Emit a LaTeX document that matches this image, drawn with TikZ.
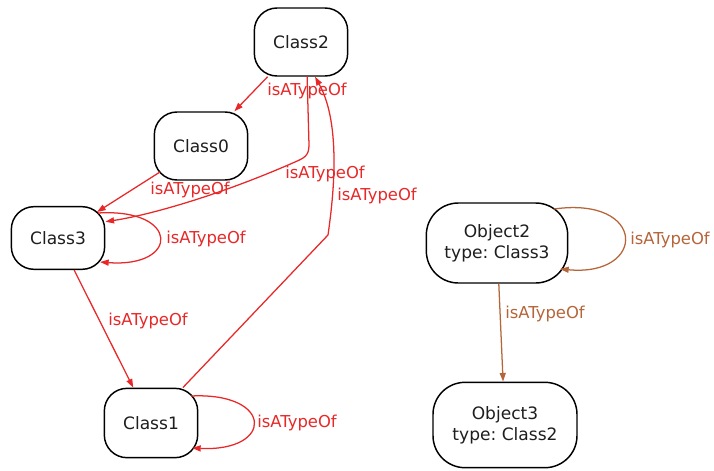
\documentclass[tikz,border=0pt]{standalone}
\usepackage{fontspec}
\setmainfont{DejaVu Sans}
\usetikzlibrary{arrows.meta,calc}
\definecolor{isared}{RGB}{232,40,40}
\definecolor{isabrown}{RGB}{181,101,57}
\definecolor{ink}{RGB}{30,30,30}
\frenchspacing

\begin{document}
\begin{tikzpicture}[
    x=0.75pt, y=-0.75pt,
    cls/.style={rectangle, rounded corners=17pt, draw=black, line width=1.1pt, fill=white,
        minimum width=70pt, minimum height=51pt, inner sep=2pt, text=ink,
        font=\fontsize{12.8}{15.75}\selectfont},
    obj/.style={cls, rounded corners=24pt, align=center,
        minimum width=106pt, minimum height=60pt},
    edge/.style={line width=0.95pt, color=isared, -{Triangle[length=6.5pt,width=4.5pt]}},
    objedge/.style={edge, color=isabrown},
    lbl/.style={text=isared, inner sep=0pt, font=\fontsize{12.3}{14}\selectfont},
    objlbl/.style={lbl, text=isabrown}
]
    \useasboundingbox (0,0) rectangle (714,471);

    \node[cls] (c2) at (301,42) {Class2};
    \node[cls] (c0) at (201,146) {Class0};
    \node[cls, minimum height=47pt] (c3) at (58,238) {Class3};
    \node[cls, minimum height=52pt] (c1) at (151,423) {Class1};
    \node[obj] (o2) at (497,243) {Object2\\type: Class3};
    \node[obj, minimum width=108pt, minimum height=64pt] (o3) at (505,425) {Object3\\type: Class2};

    \draw[edge] (c2) -- (c0);
    \draw[edge] ($(c0)+(-41,26)$) -- ($(c3)+(39,-26)$);
    \draw[edge] (c2.-80) -- (309,145) .. controls (309,156) and (304,158) .. (295,162)
        .. controls (220,195) and (150,215) .. (c3.19);
    \draw[edge] (c3) -- (c1);
    \draw[edge] (c1.48) -- (328,235) .. controls (333,200) and (342,125) .. (c2.-68);
    \draw[edge] ($(c3)+(40,-25)$) .. controls (180,208) and (180,268) .. ($(c3)+(42,24)$);
    \draw[edge] ($(c1)+(40,-27)$) .. controls (274,392) and (274,452) .. ($(c1)+(41,25)$);
    \draw[objedge] ($(o2)+(57,-34)$) .. controls (647,196) and (647,277) .. ($(o2)+(63,26)$);
    \draw[objedge] (o2) -- (o3);

    \node[lbl] (l0) at (307,91) {isATypeOf};
    \node[lbl] (l1) at (190,190) {isATypeOf};
    \node[lbl] (l2) at (325,174) {isATypeOf};
    \node[lbl] (l3) at (377,196) {isATypeOf};
    \node[lbl] (l4) at (206,239) {isATypeOf};
    \node[lbl] (l5) at (148,321) {isATypeOf};
    \node[lbl] (l6) at (297,423) {isATypeOf};
    \node[objlbl] (l7) at (670,240) {isATypeOf};
    \node[objlbl] (l8) at (545,314) {isATypeOf};
\end{tikzpicture}
\end{document}
